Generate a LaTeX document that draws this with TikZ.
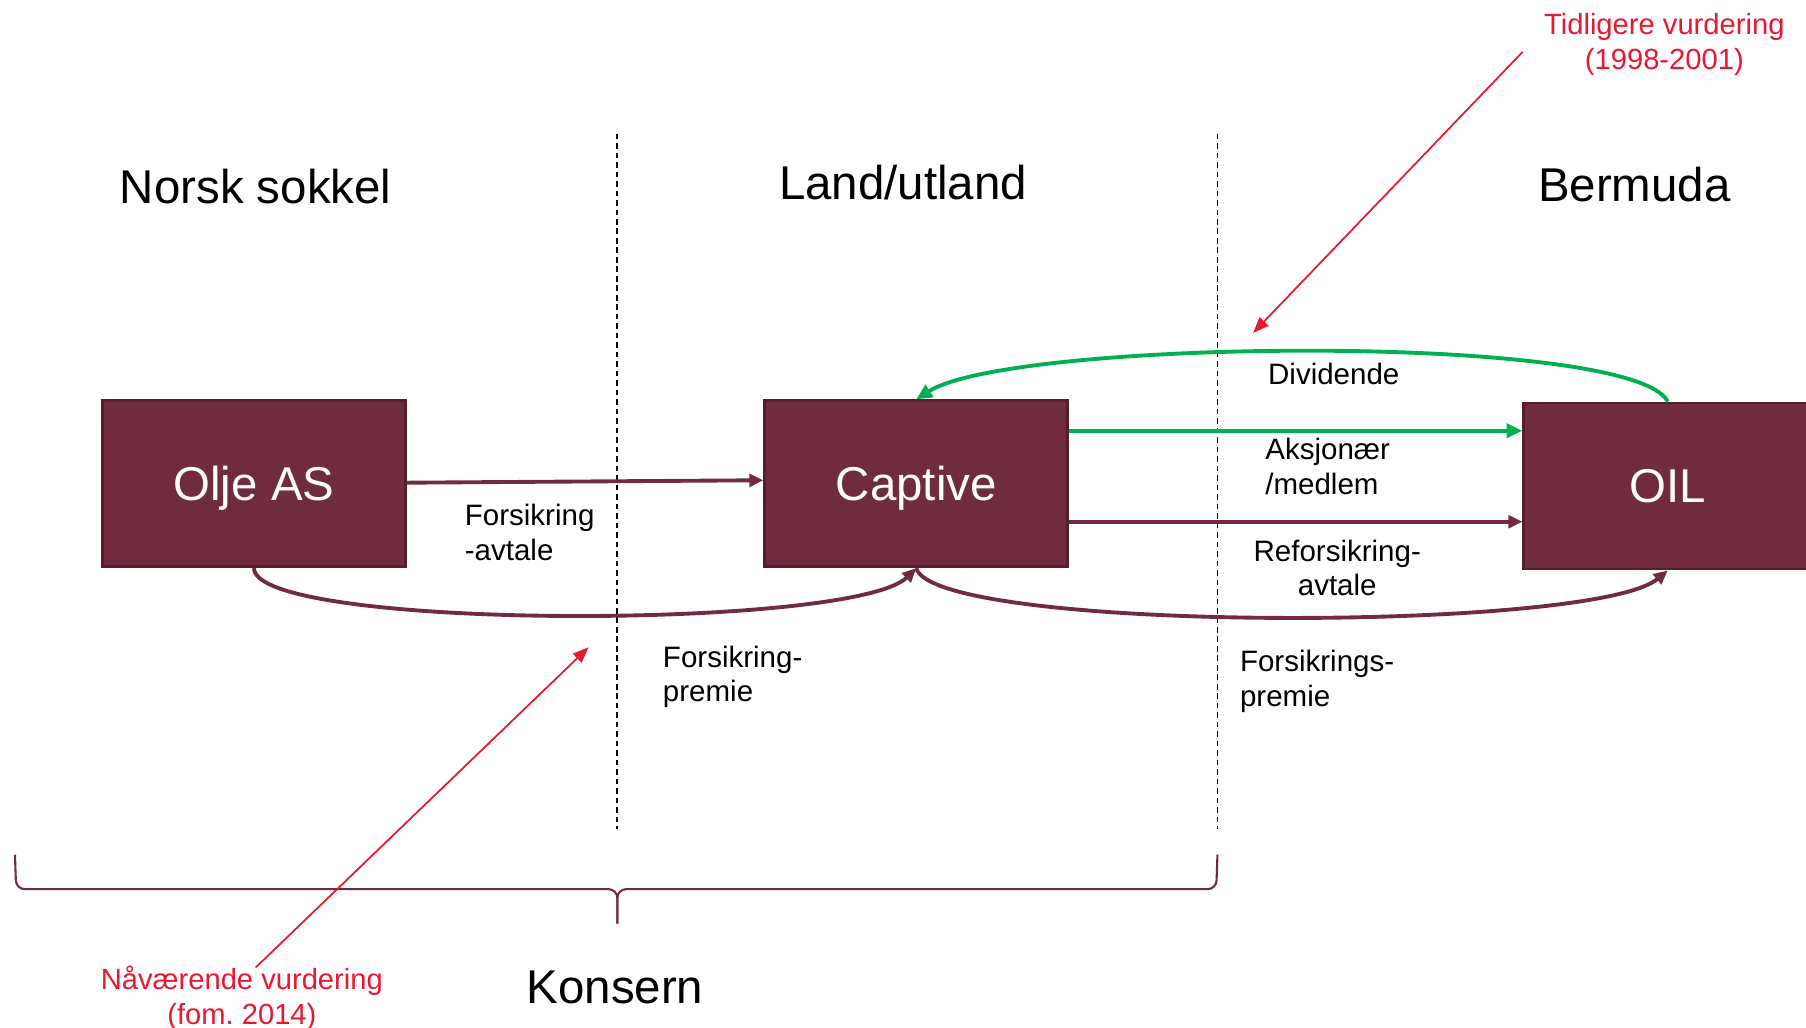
\documentclass[tikz,border=0pt]{standalone}
\usepackage{fontspec}
\setmainfont{Liberation Sans}
\frenchspacing
\usetikzlibrary{arrows.meta, positioning, calc}
\definecolor{mymaroon}{RGB}{112,43,63}
\definecolor{myborder}{RGB}{84,30,45}
\definecolor{mygreen}{RGB}{0,176,80}
\definecolor{myred}{RGB}{232,24,48}
\tikzset{
  box/.style={rectangle, draw=myborder, fill=mymaroon, text=white,
    minimum width=3.03cm, minimum height=1.66cm, inner sep=0pt, text depth=0pt,
    font=\fontsize{13.5pt}{16pt}\selectfont, line width=0.8pt},
  region/.style={font=\fontsize{13.5pt}{16pt}\selectfont, inner sep=0pt},
  flowlabel/.style={font=\fontsize{8.4pt}{9.9pt}\selectfont, inner sep=0pt},
  note/.style={font=\fontsize{8.3pt}{9.9pt}\selectfont, text=myred,
    inner sep=0pt, align=center},
  arrow/.style={-{Triangle[length=4pt,width=3.6pt]}, line width=1.1pt, color=mymaroon},
  greenarrow/.style={-{Triangle[length=4.5pt,width=4pt]}, line width=1.1pt, color=mygreen},
  redarrow/.style={-{Triangle[length=4.5pt,width=3.5pt]}, line width=0.5pt, color=myred},
  divider/.style={black, line width=0.5pt, dash pattern=on 1.6pt off 1.1pt},
  bracket/.style={line width=0.6pt, color=mymaroon, rounded corners=2.5pt}
}
\begin{document}
\begin{tikzpicture}[x=0.011518cm, y=-0.011518cm]
  \useasboundingbox (0,0) rectangle (1568,892);
  \clip (0,0) rectangle (1568,892);

  % Regions
  \node[region, anchor=base] (norsk) at (222,177) {Norsk sokkel};
  \node[region, anchor=base] (land) at (784,173) {Land/utland};
  \node[region, anchor=base] (bermuda) at (1419,175) {Bermuda};

  % Dividers
  \coordinate (d1top) at (536,116);
  \coordinate (d1bot) at (536,720);
  \coordinate (d2top) at (1057,116);
  \coordinate (d2bot) at (1057,720);
  \draw[divider] (d1top) -- (d1bot);
  \draw[divider] (d2top) -- (d2bot);

  % Companies
  \node[box] (olje) at (220.5,420) {Olje AS};
  \node[box] (captive) at (795.5,420) {Captive};
  \node[box, minimum width=2.88cm] (oil) at (1448,422) {OIL};

  % Flows
  \draw[arrow] (olje) -- ([yshift=0.035cm]captive.west);
  \coordinate (gstart) at ($(captive.east)+(0,-46)$);
  \draw[greenarrow] (gstart) -- (gstart -| oil.west);
  \coordinate (rstart) at ($(captive.east)+(0,33)$);
  \draw[arrow] (rstart) -- (rstart -| oil.west);
  \draw[greenarrow] (oil.north) .. controls +(-30,-60) and +(83,-53) .. (captive.north);
  \draw[arrow] (olje.south) .. controls +(0,54) and +(-55,54) .. (captive.south);
  \draw[arrow] (captive.south) .. controls +(15,56) and +(-65,54) .. (oil.south);

  % Flow labels
  \node[flowlabel, anchor=north west, align=left] (avtale) at (403,437) {Forsikring\\-avtale};
  \node[flowlabel, anchor=base] (dividende) at (1158,334) {Dividende};
  \node[flowlabel, anchor=north west, align=left] (medlem) at (1098,380) {Aksjonær\\/medlem};
  \node[flowlabel, anchor=north, align=center] (reforsikring) at (1161,468) {Reforsikring-\\avtale};
  \node[flowlabel, anchor=north west, align=left] (premie) at (575,560) {Forsikring-\\premie};
  \node[flowlabel, anchor=north west, align=left] (rpremie) at (1076,564) {Forsikrings-\\premie};

  % Group bracket
  \draw[bracket] (13,742) -- (14,772) -- (536,772) -- (536,802);
  \draw[bracket] (1057,742) -- (1056,772) -- (536,772) -- (536,802);
  \node[region, anchor=base] (konsern) at (534,871) {Konsern};

  % Assessments
  \node[note, anchor=north] (tidligere) at (1445,11) {Tidligere vurdering\\(1998-2001)};
  \node[note, anchor=north] (naavaerende) at (210,838) {Nåværende vurdering\\(fom. 2014)};
  \coordinate (tstart) at (1322,45);
  \coordinate (tend) at (1088,289);
  \coordinate (nstart) at (222,840);
  \coordinate (nend) at (511,562);
  \draw[redarrow] (tstart) -- (tend);
  \draw[redarrow] (nstart) -- (nend);
\end{tikzpicture}
\end{document}
